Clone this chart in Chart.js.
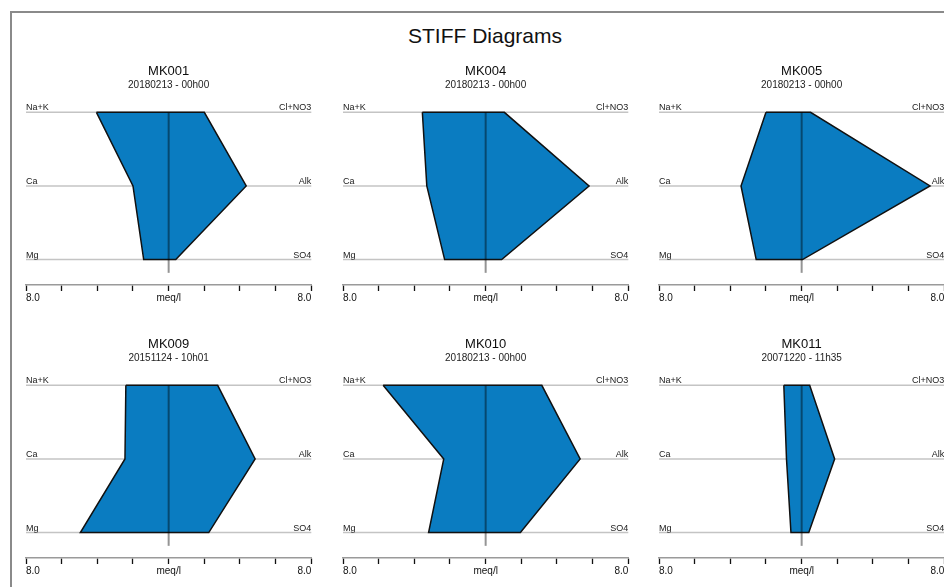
<!DOCTYPE html>
<html>
<head>
<meta charset="utf-8">
<script src="https://cdn.jsdelivr.net/npm/chart.js@4/dist/chart.umd.min.js"></script>
<style>
  html, body { margin: 0; padding: 0; background: #fff; }
  body { width: 944px; height: 587px; position: relative; overflow: hidden; font-family: "Liberation Sans", Arial, sans-serif; }
  #frame { position: absolute; left: 10px; top: 11px; width: 1000px; height: 640px; border: 2px solid #8a8a8a; box-sizing: border-box; }
  #mainTitle { position: absolute; left: 0; width: 970px; top: 23px; text-align: center; font-size: 21px; color: #111; line-height: 26px; }
  canvas.stiff { position: absolute; }
</style>
</head>
<body>
<div id="frame"></div>
<div id="mainTitle">STIFF Diagrams</div>
<div id="panels"></div>
<script>
// Sample wells and their sampling date/time
const wells = ['MK001', 'MK004', 'MK005', 'MK009', 'MK010', 'MK011'];
const sampled = ['20180213 - 00h00', '20180213 - 00h00', '20180213 - 00h00',
                 '20151124 - 10h01', '20180213 - 00h00', '20071220 - 11h35'];

// Cations (meq/l), plotted to the left of the centre line
const naK = [4.05, 3.55, 2.0, 2.4, 5.75, 1.0];
const ca  = [2.0, 3.3, 3.4, 2.45, 2.35, 0.85];
const mg  = [1.4, 2.3, 2.55, 4.95, 3.2, 0.6];

// Anions (meq/l), plotted to the right of the centre line
const clNo3 = [2.0, 1.05, 0.5, 2.75, 3.15, 0.45];
const alk   = [4.35, 5.8, 7.2, 4.85, 5.3, 1.85];
const so4   = [0.4, 0.9, 0.05, 2.25, 1.95, 0.4];

const cationNames = ['Na+K', 'Ca', 'Mg'];
const anionNames = ['Cl+NO3', 'Alk', 'SO4'];
const axisMax = 8;
const axisTicks = [-8, -6, -4, -2, 0, 2, 4, 6, 8];

Chart.defaults.font.family = '"Liberation Sans", Arial, sans-serif';
Chart.defaults.color = '#111';

// Row guide lines, ion labels and the centre line of a Stiff diagram
const stiffFrame = {
  id: 'stiffFrame',
  beforeDatasetsDraw(chart) {
    const { ctx, scales } = chart;
    const x = scales.x, y = scales.y;
    ctx.save();
    ctx.font = '9px "Liberation Sans", Arial, sans-serif';
    ctx.fillStyle = '#1a1a1a';
    for (let r = 0; r < 3; r++) {
      const py = y.getPixelForValue(r);
      ctx.strokeStyle = '#c4c4c4';
      ctx.lineWidth = 1.5;
      ctx.beginPath();
      ctx.moveTo(x.getPixelForValue(-axisMax), py);
      ctx.lineTo(x.getPixelForValue(axisMax), py);
      ctx.stroke();
      ctx.textBaseline = 'bottom';
      ctx.textAlign = 'left';
      ctx.fillText(cationNames[r], x.getPixelForValue(-axisMax), py);
      ctx.textAlign = 'right';
      ctx.fillText(anionNames[r], x.getPixelForValue(axisMax), py);
    }
    ctx.restore();
  },
  afterDatasetsDraw(chart) {
    const { ctx, scales } = chart;
    const x = scales.x, y = scales.y;
    const cx = x.getPixelForValue(0);
    ctx.save();
    ctx.strokeStyle = 'rgba(0,0,0,0.42)';
    ctx.lineWidth = 2;
    ctx.beginPath();
    ctx.moveTo(cx, y.getPixelForValue(0));
    ctx.lineTo(cx, y.getPixelForValue(2.18));
    ctx.stroke();
    ctx.restore();
  }
};

const panelLeft = [26, 342.5, 659];
const panelTop = [60, 333];
const host = document.getElementById('panels');

wells.forEach((well, i) => {
  const col = i % 3, row = Math.floor(i / 3);
  const canvas = document.createElement('canvas');
  canvas.className = 'stiff';
  canvas.width = 318;
  canvas.height = 250;
  canvas.style.left = (panelLeft[col] - 16) + 'px';
  canvas.style.top = panelTop[row] + 'px';
  host.appendChild(canvas);

  const outline = [
    { x: -naK[i], y: 0 },
    { x: -ca[i], y: 1 },
    { x: -mg[i], y: 2 },
    { x: so4[i], y: 2 },
    { x: alk[i], y: 1 },
    { x: clNo3[i], y: 0 },
    { x: -naK[i], y: 0 }
  ];

  new Chart(canvas, {
    type: 'scatter',
    data: {
      datasets: [{
        data: outline,
        showLine: true,
        fill: 'shape',
        backgroundColor: '#0a7cc1',
        borderColor: '#111',
        borderWidth: 1.5,
        pointRadius: 0,
        tension: 0
      }]
    },
    options: {
      responsive: false,
      animation: false,
      devicePixelRatio: 1,
      layout: { padding: { left: 16, right: 16.7, top: 0, bottom: 5 } },
      plugins: {
        legend: { display: false },
        tooltip: { enabled: false },
        title: {
          display: true,
          text: well,
          font: { size: 13, weight: 'normal' },
          color: '#0d0d0d',
          padding: { top: 4, bottom: 0 }
        },
        subtitle: {
          display: true,
          text: sampled[i],
          font: { size: 10 },
          color: '#222',
          padding: { top: 0, bottom: 6 }
        }
      },
      scales: {
        x: {
          type: 'linear',
          min: -axisMax,
          max: axisMax,
          afterBuildTicks(scale) { scale.ticks = axisTicks.map(v => ({ value: v })); },
          border: { display: true, color: '#9a9a9a', width: 1.5 },
          grid: { drawOnChartArea: false, drawTicks: true, tickLength: 6, tickColor: '#111', tickWidth: 1.3 },
          ticks: {
            align: 'inner',
            padding: 1,
            maxRotation: 0,
            autoSkip: false,
            font: { size: 10 },
            color: '#111',
            callback(v) {
              if (v === 0) return 'meq/l';
              if (Math.abs(v) === axisMax) return axisMax.toFixed(1);
              return '';
            }
          }
        },
        y: {
          type: 'linear',
          display: false,
          reverse: true,
          min: -0.2,
          max: 2.345
        }
      }
    },
    plugins: [stiffFrame]
  });
});
</script>
</body>
</html>
